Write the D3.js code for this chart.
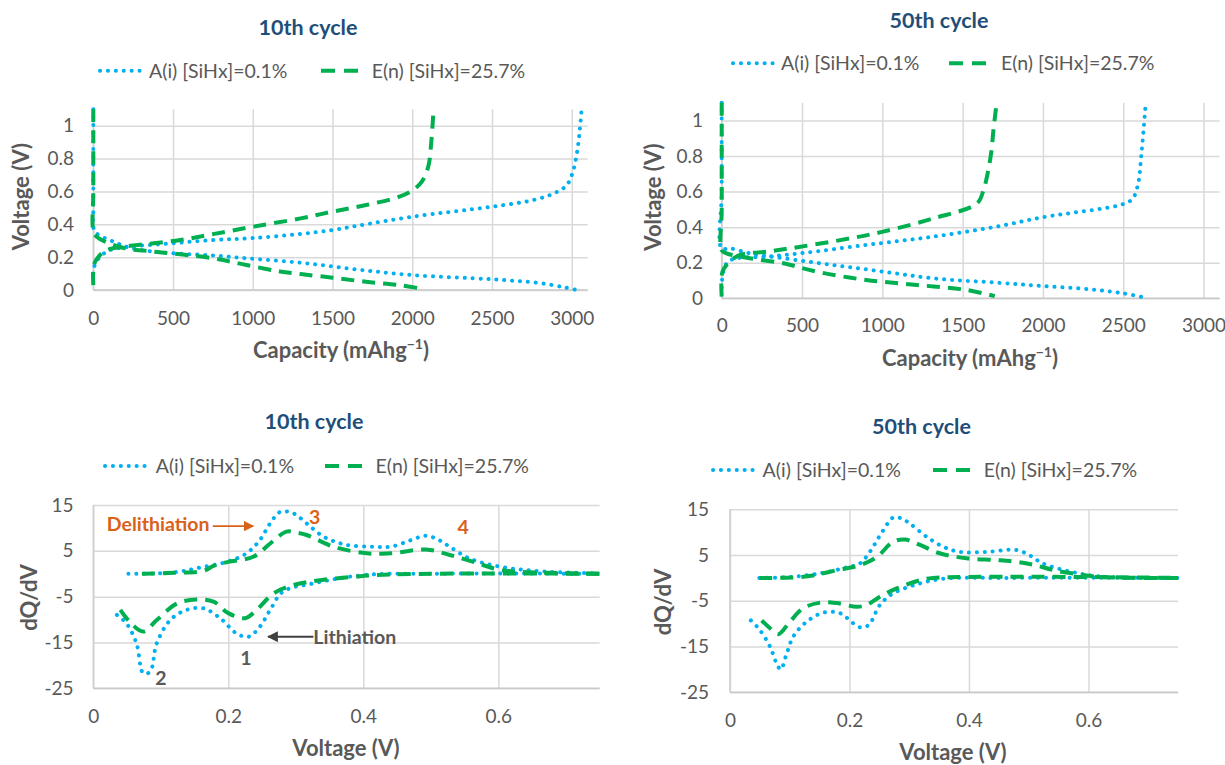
<!DOCTYPE html>
<html>
<head>
<meta charset="utf-8">
<script src="https://cdn.jsdelivr.net/npm/d3@7"></script>
<style>
  body { margin: 0; background: #ffffff; }
  svg { display: block; font-family: Lato, "Open Sans", sans-serif; }
</style>
</head>
<body>
<svg id="fig" width="1225" height="765"></svg>
<script>
// ---------- series labels ----------
const seriesNames = ["A(i) [SiHx]=0.1%", "E(n) [SiHx]=25.7%"];
const panelTitles = ["10th cycle", "50th cycle", "10th cycle", "50th cycle"];

// ---------- tick labels ----------
const capTicks = [0, 500, 1000, 1500, 2000, 2500, 3000];
const voltTicks = [0, 0.2, 0.4, 0.6, 0.8, 1];
const dqVoltTicks = [0, 0.2, 0.4, 0.6];
const dqTicks = [-25, -15, -5, 5, 15];

// ---------- voltage profiles, 10th cycle: [capacity mAh/g, voltage V] ----------
const A10_lith = [[0,1.1],[0,0.8],[0,0.5],[1,0.38],[20,0.345],[125,0.295],[230,0.256],[440,0.228],[750,0.21],[960,0.193],[1300,0.166],[1650,0.125],[2000,0.091],[2500,0.065],[2800,0.042],[2960,0.015],[3030,0.0]];
const A10_delith = [[0,0.1],[5,0.14],[40,0.2],[105,0.243],[230,0.264],[440,0.28],[750,0.304],[1000,0.316],[1300,0.341],[1500,0.365],[1650,0.39],[2000,0.446],[2500,0.507],[2760,0.548],[2890,0.589],[2970,0.64],[3010,0.73],[3035,0.85],[3050,0.97],[3060,1.08]];
const E10_lith = [[0,1.1],[0,0.6],[0,0.36],[20,0.325],[125,0.274],[230,0.248],[335,0.238],[750,0.193],[960,0.152],[1170,0.113],[1300,0.097],[1500,0.075],[1710,0.05],[1920,0.03],[2060,0.008]];
const E10_delith = [[0,0.03],[3,0.15],[30,0.2],[85,0.243],[190,0.264],[335,0.28],[545,0.304],[750,0.34],[1000,0.385],[1300,0.436],[1500,0.477],[1710,0.517],[1920,0.568],[2005,0.609],[2060,0.66],[2100,0.75],[2120,0.91],[2132,1.075]];

// ---------- voltage profiles, 50th cycle ----------
const A50_lith = [[0,1.1],[0,0.6],[0,0.28],[50,0.281],[175,0.253],[385,0.225],[695,0.187],[1005,0.15],[1320,0.112],[1710,0.088],[2000,0.069],[2300,0.05],[2500,0.028],[2630,0.005]];
const A50_delith = [[0,0.06],[10,0.15],[40,0.206],[95,0.225],[280,0.234],[490,0.253],[900,0.3],[1320,0.347],[1710,0.403],[2000,0.456],[2500,0.53],[2560,0.562],[2595,0.656],[2610,0.78],[2625,0.93],[2640,1.1]];
const E50_lith = [[0,1.1],[0,0.5],[0,0.27],[30,0.253],[175,0.225],[385,0.197],[590,0.15],[900,0.103],[1215,0.075],[1525,0.047],[1700,0.012]];
const E50_delith = [[0,0.01],[5,0.15],[50,0.206],[115,0.244],[280,0.262],[490,0.29],[800,0.337],[1005,0.375],[1320,0.45],[1590,0.534],[1630,0.609],[1660,0.722],[1680,0.834],[1692,0.946],[1712,1.1]];

// ---------- differential capacity, 10th cycle: [voltage V, dQ/dV] ----------
const A10_dqDel = [[0.052,0],[0.1,0.1],[0.13,0.5],[0.153,1.2],[0.198,2.6],[0.227,4.45],[0.247,7.4],[0.262,11],[0.277,13.5],[0.296,13.2],[0.316,11],[0.341,8.1],[0.375,6.3],[0.415,5.9],[0.441,5.9],[0.47,7.3],[0.493,8.3],[0.51,7.5],[0.528,5.9],[0.557,3.35],[0.604,1.5],[0.673,0.45],[0.75,0.1]];
const E10_dqDel = [[0.072,0],[0.12,0.2],[0.163,0.6],[0.178,1.7],[0.2,2.6],[0.237,3.7],[0.262,6.6],[0.286,9.2],[0.3,9.0],[0.316,8.45],[0.356,5.9],[0.405,4.45],[0.441,4.45],[0.493,5.3],[0.528,4.1],[0.563,2.6],[0.604,0.8],[0.673,0.2],[0.75,0]];
const A10_dqLit = [[0.035,-9.0],[0.049,-10.8],[0.064,-15.2],[0.074,-21.7],[0.084,-21.4],[0.094,-15.2],[0.114,-10.1],[0.138,-7.9],[0.163,-7.55],[0.188,-9.7],[0.212,-13.0],[0.23,-13.75],[0.247,-11.5],[0.262,-7.9],[0.281,-3.9],[0.326,-2.1],[0.4,-0.3],[0.5,0],[0.75,0]];
const E10_dqLit = [[0.04,-7.9],[0.054,-10.5],[0.074,-12.6],[0.094,-10.1],[0.124,-6.5],[0.153,-5.6],[0.178,-6.1],[0.2,-8.6],[0.225,-9.7],[0.242,-7.9],[0.267,-4.3],[0.296,-2.5],[0.336,-1.4],[0.385,-0.7],[0.42,-0.3],[0.5,0],[0.75,0]];

// ---------- differential capacity, 50th cycle ----------
const A50_dqDel = [[0.049,0],[0.1,0.2],[0.151,1.0],[0.195,2.3],[0.218,3.2],[0.234,5.7],[0.257,10.5],[0.273,13.2],[0.287,13.0],[0.301,11.9],[0.329,9.0],[0.357,6.8],[0.385,5.7],[0.43,5.7],[0.48,6.1],[0.506,4.6],[0.523,3.2],[0.569,1.4],[0.621,0.3],[0.75,0]];
const E50_dqDel = [[0.049,0],[0.126,0.3],[0.179,1.7],[0.218,2.8],[0.246,4.6],[0.273,7.9],[0.293,8.4],[0.318,7.2],[0.351,5.4],[0.396,4.3],[0.446,3.9],[0.48,3.5],[0.51,2.8],[0.542,1.7],[0.582,0.8],[0.62,0.2],[0.75,0]];
const A50_dqLit = [[0.035,-9.3],[0.05,-11.4],[0.067,-15],[0.078,-18.7],[0.085,-20],[0.095,-16.5],[0.106,-12.8],[0.128,-9.6],[0.156,-7.6],[0.184,-7.7],[0.206,-9.9],[0.218,-10.8],[0.232,-10.3],[0.251,-5.9],[0.273,-3.4],[0.318,-1.2],[0.363,-0.1],[0.45,0],[0.75,0]];
const E50_dqLit = [[0.053,-9.3],[0.067,-11.0],[0.081,-12.3],[0.1,-9.6],[0.123,-6.6],[0.151,-5.4],[0.179,-5.5],[0.212,-6.3],[0.229,-5.9],[0.251,-4.1],[0.279,-2.3],[0.318,-0.5],[0.34,0],[0.75,0]];

// ---------- callouts on the 10th-cycle dQ/dV plot (data units) ----------
const callouts = [
  { text: "Delithiation", v: 0.02, q: 10.8, color: "#d9621a", weight: 700, anchor: "start" },
  { text: "3", v: 0.328, q: 12.3, color: "#d9621a", weight: 700, anchor: "middle" },
  { text: "4", v: 0.548, q: 10.1, color: "#d9621a", weight: 700, anchor: "middle" },
  { text: "Lithiation", v: 0.326, q: -13.75, color: "#595959", weight: 700, anchor: "start" },
  { text: "1", v: 0.226, q: -18.5, color: "#595959", weight: 700, anchor: "middle" },
  { text: "2", v: 0.1, q: -22.8, color: "#595959", weight: 700, anchor: "middle" }
];
const calloutArrows = [
  { from: [0.177, 10.4], to: [0.237, 10.4], color: "#d9621a" },
  { from: [0.326, -13.75], to: [0.259, -13.75], color: "#404040" }
];

// ---------- styles ----------
const COL_A = "#00b0f0", COL_E = "#00b050";
const TITLE_COL = "#1f4e79", TEXT_COL = "#595959", GRID_COL = "#d9d9d9";

const svg = d3.select("#fig");
const defs = svg.append("defs");
[["arrOrange", "#d9621a"], ["arrGray", "#404040"]].forEach(([id, c]) => {
  defs.append("marker").attr("id", id).attr("viewBox", "0 0 10 10")
    .attr("refX", 9).attr("refY", 5).attr("markerWidth", 6).attr("markerHeight", 6)
    .attr("orient", "auto-start-reverse")
    .append("path").attr("d", "M0,0 L10,5 L0,10 z").attr("fill", c);
});

const panels = [
  { title: panelTitles[0], kind: "cap", A: [A10_lith, A10_delith], E: [E10_lith, E10_delith],
    box: { l: 93.3, r: 587.7, t: 109.3, b: 290 }, titleXY: [308, 27],
    legend: { y: 70.7, dot: [100, 140], txtA: 149, dash: [321, 358], txtE: 371.7 },
    yTickRight: 74, xTickY: 318.3, xTitle: [341, 350], yTitle: [21.5, 196.7] },
  { title: panelTitles[1], kind: "cap", A: [A50_lith, A50_delith], E: [E50_lith, E50_delith],
    box: { l: 721.7, r: 1219.6, t: 102.7, b: 298.3 }, titleXY: [939, 20],
    legend: { y: 63.3, dot: [733, 773], txtA: 781, dash: [949, 988], txtE: 1001 },
    yTickRight: 703, xTickY: 325, xTitle: [970, 358], yTitle: [653, 197] },
  { title: panelTitles[2], kind: "dq", A: [A10_dqDel, A10_dqLit], E: [E10_dqDel, E10_dqLit],
    box: { l: 93.3, r: 599.6, t: 505, b: 688.3 }, titleXY: [314, 421.7],
    legend: { y: 466, dot: [105, 146], txtA: 155.7, dash: [325, 362], txtE: 375.6 },
    yTickRight: 73.5, xTickY: 716, xTitle: [346, 748.3], yTitle: [29, 597.5], callouts: true },
  { title: panelTitles[3], kind: "dq", A: [A50_dqDel, A50_dqLit], E: [E50_dqDel, E50_dqLit],
    box: { l: 730, r: 1178.1, t: 509.3, b: 692.3 }, titleXY: [921.5, 426],
    legend: { y: 470, dot: [713, 754], txtA: 762.6, dash: [933, 970], txtE: 983.7 },
    yTickRight: 709, xTickY: 720, xTitle: [953, 752.7], yTitle: [663, 602] }
];

function styleDotted(sel) {
  return sel.attr("fill", "none").attr("stroke", COL_A).attr("stroke-width", 4)
    .attr("stroke-linecap", "round").attr("stroke-dasharray", "0.1 7.8");
}
function styleDashed(sel) {
  return sel.attr("fill", "none").attr("stroke", COL_E).attr("stroke-width", 4)
    .attr("stroke-linecap", "butt").attr("stroke-dasharray", "13 8");
}

panels.forEach(p => {
  const g = svg.append("g");
  const { l, r, t, b } = p.box;
  const isCap = p.kind === "cap";
  const x = d3.scaleLinear().domain(isCap ? [0, 3100] : [0, 0.75]).range([l, r]);
  const y = d3.scaleLinear().domain(isCap ? [0, 1.1] : [-25, 15]).range([b, t]);
  const xTicks = isCap ? capTicks : dqVoltTicks;
  const yTicks = isCap ? voltTicks : dqTicks;

  // gridlines + tick labels
  const gy = g.append("g").attr("transform", `translate(${l},0)`)
    .call(d3.axisLeft(y).tickValues(yTicks).tickSize(-(r - l))
      .tickPadding(l - p.yTickRight).tickFormat(d => String(d)));
  const gx = g.append("g").attr("transform", `translate(0,${b})`)
    .call(d3.axisBottom(x).tickValues(xTicks).tickSize(-(b - t)).tickFormat(d => String(d)));
  [gx, gy].forEach(a => {
    a.select(".domain").remove();
    a.selectAll(".tick line").attr("stroke", GRID_COL).attr("stroke-width", 1.5);
    a.selectAll(".tick text").attr("fill", TEXT_COL).attr("font-size", 19)
      .attr("font-family", "Lato, 'Open Sans', sans-serif");
  });
  gx.selectAll(".tick text").attr("y", p.xTickY - b).attr("dy", "0.35em");
  // axis base lines
  g.append("line").attr("x1", l).attr("x2", r).attr("y1", b).attr("y2", b)
    .attr("stroke", "#c8c8c8").attr("stroke-width", 1.6);
  g.append("line").attr("x1", l).attr("x2", l).attr("y1", t).attr("y2", b)
    .attr("stroke", "#d0d0d0").attr("stroke-width", 1.6);

  // curves
  const line = d3.line().x(d => x(d[0])).y(d => y(d[1])).curve(d3.curveCatmullRom.alpha(0.5));
  p.A.forEach(s => g.append("path").attr("d", line(s)).call(styleDotted));
  p.E.forEach(s => g.append("path").attr("d", line(s)).call(styleDashed));

  // title
  g.append("text").attr("x", p.titleXY[0]).attr("y", p.titleXY[1]).attr("dy", "0.35em")
    .attr("text-anchor", "middle").attr("font-size", 21.5).attr("font-weight", 700)
    .attr("fill", TITLE_COL).text(p.title);

  // legend
  const L = p.legend;
  g.append("line").attr("x1", L.dot[0]).attr("x2", L.dot[1]).attr("y1", L.y).attr("y2", L.y).call(styleDotted);
  g.append("text").attr("x", L.txtA).attr("y", L.y).attr("dy", "0.35em").attr("font-size", 19.5)
    .attr("fill", TEXT_COL).text(seriesNames[0]);
  g.append("line").attr("x1", L.dash[0]).attr("x2", L.dash[1]).attr("y1", L.y).attr("y2", L.y)
    .call(styleDashed).attr("stroke-dasharray", "14 9");
  g.append("text").attr("x", L.txtE).attr("y", L.y).attr("dy", "0.35em").attr("font-size", 19.5)
    .attr("fill", TEXT_COL).text(seriesNames[1]);

  // axis titles
  const xt = g.append("text").attr("x", p.xTitle[0]).attr("y", p.xTitle[1]).attr("dy", "0.35em")
    .attr("text-anchor", "middle").attr("font-size", 22).attr("font-weight", 700).attr("fill", TEXT_COL);
  if (isCap) {
    xt.append("tspan").text("Capacity (mAhg");
    xt.append("tspan").attr("font-size", 14).attr("dy", "-0.6em").text("−1");
    xt.append("tspan").attr("dy", "0.38em").text(")");
  } else {
    xt.text("Voltage (V)");
  }
  g.append("text").attr("transform", `translate(${p.yTitle[0]},${p.yTitle[1]}) rotate(-90)`)
    .attr("dy", "0.35em").attr("text-anchor", "middle").attr("font-size", 22).attr("font-weight", 700)
    .attr("fill", TEXT_COL).text(isCap ? "Voltage (V)" : "dQ/dV");

  // callouts
  if (p.callouts) {
    calloutArrows.forEach(a => {
      g.append("line").attr("x1", x(a.from[0])).attr("y1", y(a.from[1]))
        .attr("x2", x(a.to[0])).attr("y2", y(a.to[1]))
        .attr("stroke", a.color).attr("stroke-width", 1.8)
        .attr("marker-end", a.color === "#404040" ? "url(#arrGray)" : "url(#arrOrange)");
    });
    callouts.forEach(c => {
      g.append("text").attr("x", x(c.v)).attr("y", y(c.q)).attr("dy", "0.35em")
        .attr("text-anchor", c.anchor).attr("font-size", 19.5).attr("font-weight", c.weight)
        .attr("fill", c.color).text(c.text);
    });
  }
});
</script>
</body>
</html>
